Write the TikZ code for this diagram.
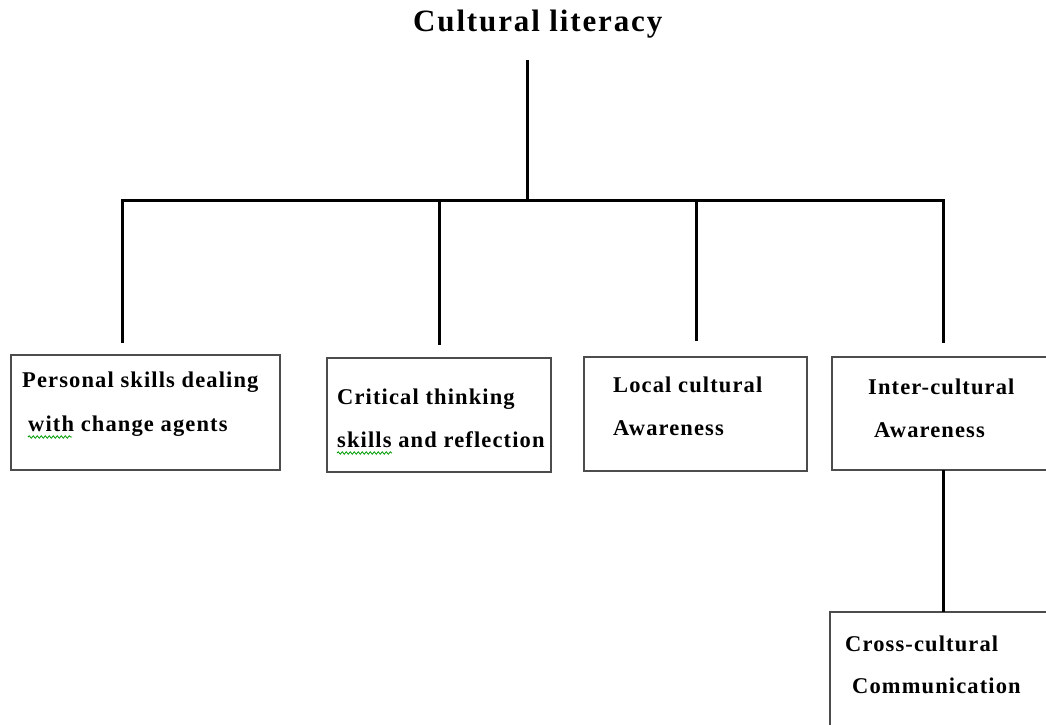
\documentclass[tikz,border=0pt]{standalone}
\usepackage{fontspec}
\setmainfont{Liberation Serif}
\newfontfamily\boxfont[LetterSpace=5]{Liberation Serif}
\newfontfamily\titlefont[LetterSpace=6]{Liberation Serif}
\usetikzlibrary{decorations.pathmorphing}
\begin{document}
\begin{tikzpicture}[x=1pt,y=-1pt,
  box/.style={draw=black!70,line width=1.8pt,inner sep=0pt},
  lbl/.style={anchor=base west,inner sep=0pt,font=\boxfont\fontsize{22.5}{26}\selectfont\bfseries},
  conn/.style={draw=black,line width=3pt},
  spell/.style={draw=green!60!black,line width=0.8pt,decorate,decoration={snake,amplitude=1.2pt,segment length=4pt}}]
\useasboundingbox (0,0) rectangle (1046,724);
\clip (0,0) rectangle (1046,724);
% title
\node[anchor=base west,inner sep=0pt,font=\titlefont\fontsize{31}{34}\selectfont\bfseries] (title) at (413,31) {Cultural literacy};
% boxes
\draw[box] (11,355) rectangle (280,470);
\draw[box] (327,358) rectangle (551,472);
\draw[box] (584,357) rectangle (807,471);
\draw[box] (832,357) rectangle (1060,470);
\draw[box] (830,612) rectangle (1060,740);
% connectors
\coordinate (top) at (527,60);
\coordinate (bar) at (527,200);
\coordinate (L) at (122,200);
\coordinate (R) at (943,200);
\coordinate (d2) at (439,200);
\coordinate (d3) at (696,200);
\coordinate (e1) at (122,343);
\coordinate (e2) at (439,345);
\coordinate (e3) at (696,341);
\coordinate (e4) at (943,343);
\coordinate (f1) at (943,470);
\coordinate (f2) at (943,612);
\draw[conn] (top) -- (bar);
\draw[conn] (e1) -- (L) -- (R) -- (e4);
\draw[conn] (d2) -- (e2);
\draw[conn] (d3) -- (e3);
\draw[conn] (f1) -- (f2);
% labels
\node[lbl] (t1a) at (22,387) {Personal skills dealing};
\node[lbl] (t1b) at (28,431) {with change agents};
\node[lbl] (t2a) at (337,404) {Critical thinking};
\node[lbl] (t2b) at (337,447) {skills and reflection};
\node[lbl] (t3a) at (613,392) {Local cultural};
\node[lbl] (t3b) at (613,435) {Awareness};
\node[lbl] (t4a) at (868,394) {Inter-cultural};
\node[lbl] (t4b) at (874,437) {Awareness};
\node[lbl] (t5a) at (845,651) {Cross-cultural};
\node[lbl] (t5b) at (852,693) {Communication};
% spell-check underlines
\draw[spell] (28,437) -- (72,437);
\draw[spell] (337,453) -- (392,453);
\end{tikzpicture}
\end{document}
